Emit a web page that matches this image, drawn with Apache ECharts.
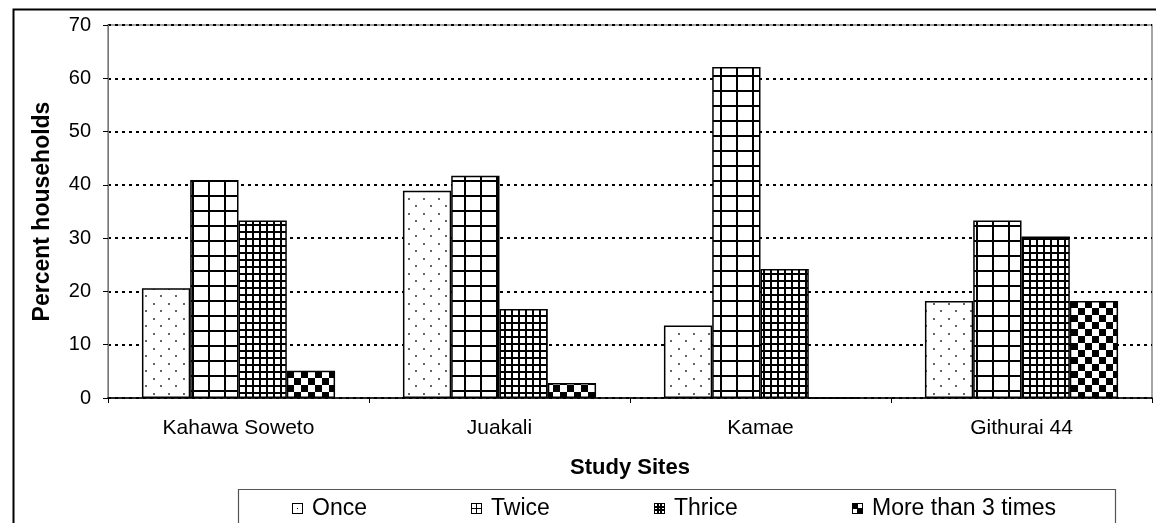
<!DOCTYPE html>
<html>
<head>
<meta charset="utf-8">
<script src="https://cdn.jsdelivr.net/npm/echarts@6/dist/echarts.min.js"></script>
<style>
html,body{margin:0;padding:0;background:#fff;}
#chart{width:1156px;height:523px;}
</style>
</head>
<body>
<div id="chart"></div>
<script>
// ---- data ----
const categories = ['Kahawa Soweto', 'Juakali', 'Kamae', 'Githurai 44'];
const seriesNames = ['Once', 'Twice', 'Thrice', 'More than 3 times'];
const once = [20.6, 38.9, 13.6, 18.2];
const twice = [40.9, 41.7, 62.1, 33.3];
const thrice = [33.3, 16.7, 24.2, 30.3];
const moreThan3 = [5.1, 2.8, 0, 18.2];
const yTicks = [0, 10, 20, 30, 40, 50, 60, 70];

// ---- patterns ----
function mkCanvas(w, h, draw) {
  const c = document.createElement('canvas');
  c.width = w; c.height = h;
  const g = c.getContext('2d');
  g.fillStyle = '#fff'; g.fillRect(0, 0, w, h);
  draw(g);
  return c;
}
function mk(w, h, draw) { return { image: mkCanvas(w, h, draw), repeat: 'repeat' }; }
const patOnce = mk(15, 15, g => {
  g.fillStyle = '#666';
  g.fillRect(3, 3, 2, 2);
  g.fillRect(10, 10, 2, 2);
});
const patTwice = mk(16, 15, g => {
  g.fillStyle = '#000';
  g.fillRect(0, 0, 2, 15);
  g.fillRect(0, 0, 16, 2);
});
const patThrice = mk(7, 7, g => {
  g.fillStyle = '#000';
  g.fillRect(0, 0, 2, 7);
  g.fillRect(0, 0, 7, 2);
});
const patMore = mk(14, 14, g => {
  g.fillStyle = '#000';
  g.fillRect(0, 0, 7, 7);
  g.fillRect(7, 7, 7, 7);
});
const pats = [patOnce, patTwice, patThrice, patMore];
const values = [once, twice, thrice, moreThan3];

// legend icons
function icon(draw) {
  const c = mkCanvas(11, 11, g => {
    draw(g);
    g.strokeStyle = '#000'; g.lineWidth = 1;
    g.strokeRect(0.5, 0.5, 10, 10);
  });
  return 'image://' + c.toDataURL();
}
const icons = [
  icon(g => { g.fillStyle = '#000'; g.fillRect(5, 5, 1, 1); }),
  icon(g => { g.fillStyle = '#000'; g.fillRect(5, 0, 1, 11); g.fillRect(0, 5, 11, 1); }),
  icon(g => { g.fillStyle = '#000'; g.fillRect(3, 0, 2, 11); g.fillRect(6, 0, 2, 11); g.fillRect(0, 3, 11, 2); g.fillRect(0, 6, 11, 2); }),
  icon(g => { g.fillStyle = '#000'; g.fillRect(0, 0, 6, 6); g.fillRect(5, 5, 6, 6); })
];
const legendLefts = [292, 471, 654, 852];

const font = 'Liberation Sans, Arial, sans-serif';
const chart = echarts.init(document.getElementById('chart'), null, { renderer: 'canvas' });

const series = seriesNames.map((n, i) => ({
  name: n,
  type: 'bar',
  data: values[i],
  barGap: '0%',
  barCategoryGap: '26%',
  itemStyle: { color: pats[i], borderColor: '#000', borderWidth: 1.5 },
  emphasis: { disabled: true }
}));

const legends = seriesNames.map((n, i) => ({
  data: [{ name: n, icon: icons[i] }],
  left: legendLefts[i], top: 497, padding: 0,
  itemWidth: 11, itemHeight: 11, itemGap: 0,
  selectedMode: false,
  textStyle: { fontFamily: font, fontSize: 23, color: '#000', padding: [0, 0, 0, 4] }
}));

chart.setOption({
  animation: false,
  backgroundColor: '#fff',
  graphic: [
    { type: 'rect', left: 11, top: 7, shape: { width: 1200, height: 600 },
      style: { fill: 'none', stroke: '#000', lineWidth: 2 }, silent: true, z: -1 },
    { type: 'rect', left: 236, top: 487, shape: { width: 877, height: 60 },
      style: { fill: 'none', stroke: '#555', lineWidth: 1.2 }, silent: true }
  ],
  grid: { left: 108, top: 25, width: 1044, height: 373, show: true, borderColor: '#888', borderWidth: 1.5 },
  legend: legends,
  xAxis: {
    type: 'category', data: categories,
    axisLine: { lineStyle: { color: '#000', width: 1.5 } },
    axisTick: { show: true, length: 5, lineStyle: { color: '#000' } },
    axisLabel: { fontFamily: font, fontSize: 21, color: '#000', margin: 20 },
    name: 'Study Sites', nameLocation: 'middle', nameGap: 59,
    nameTextStyle: { fontFamily: font, fontSize: 22, fontWeight: 'bold', color: '#000' }
  },
  yAxis: {
    type: 'value', min: yTicks[0], max: yTicks[yTicks.length - 1], interval: 10,
    axisLine: { show: true, lineStyle: { color: '#777', width: 1 } },
    axisTick: { show: true, length: 5, lineStyle: { color: '#000' } },
    axisLabel: { fontFamily: font, fontSize: 20, color: '#000', margin: 17 },
    splitLine: { lineStyle: { color: '#000', type: [3, 4], width: 2 } },
    name: 'Percent households', nameLocation: 'middle', nameGap: 54, nameRotate: 90,
    nameTextStyle: { fontFamily: font, fontSize: 23, fontWeight: 'bold', color: '#000' }
  },
  series: series
});
</script>
</body>
</html>
